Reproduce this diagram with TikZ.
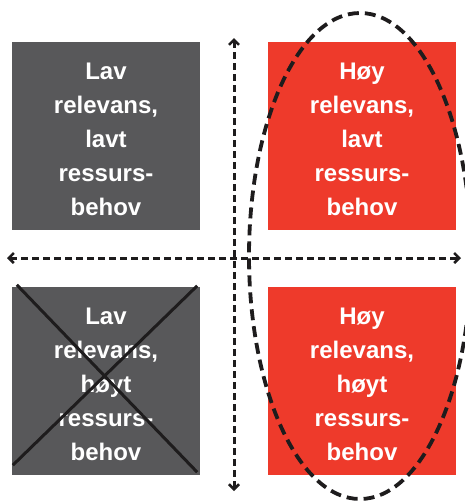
\documentclass[tikz,border=0pt]{standalone}
\usepackage{fontspec}
\setmainfont{Liberation Sans}
\usetikzlibrary{arrows.meta}
\definecolor{boxgray}{RGB}{88,88,90}
\definecolor{boxred}{RGB}{238,58,43}
\definecolor{ink}{RGB}{30,28,29}
\begin{document}
\begin{tikzpicture}[x=1pt,y=-1pt,
  quad/.style={minimum width=188pt,minimum height=188pt,inner sep=0pt},
  graybox/.style={quad,fill=boxgray},
  redbox/.style={quad,fill=boxred},
  caption/.style={inner sep=0pt,text=white,font=\bfseries\fontsize{24}{34}\selectfont,
    align=center,text width=180pt},
  tip/.tip={Straight Barb[length=5pt,width=10pt,line width=2.5pt]},
  axisline/.style={ink,line width=3pt,dash pattern=on 7pt off 4pt,tip-tip},
  ring/.style={ink,line width=3.8pt,dash pattern=on 11pt off 6pt},
  strike/.style={ink,line width=3pt}]
\useasboundingbox (0,0) rectangle (465,501);
\clip (0,0) rectangle (465,501);

% the four quadrants
\node[graybox] (tl) at (106,136) {};
\node[redbox]  (tr) at (362,136) {};
\node[graybox] (bl) at (106,381) {};
\node[redbox]  (br) at (362,381) {};

\node[caption] (tltext) at ([yshift=-3pt]tl.center) {Lav\\relevans,\\lavt\\ressurs-\\behov};
\node[caption] (trtext) at ([yshift=-3pt]tr.center) {Høy\\relevans,\\lavt\\ressurs-\\behov};
\node[caption] (bltext) at ([yshift=-3pt]bl.center) {Lav\\relevans,\\høyt\\ressurs-\\behov};
\node[caption] (brtext) at ([yshift=-3pt]br.center) {Høy\\relevans,\\høyt\\ressurs-\\behov};

% crossed-out quadrant
\draw[strike] ([xshift=5pt,yshift=2pt]bl.north west) -- ([xshift=-3pt,yshift=3pt]bl.south east);
\draw[strike] ([xshift=1pt,yshift=10pt]bl.south west) -- ([xshift=-3pt,yshift=1pt]bl.north east);

% axes
\coordinate (vtop) at (234,38);
\coordinate (vbot) at (234,491);
\coordinate (hleft) at (7,258);
\coordinate (hright) at (461,258);
\draw[axisline] (vtop) -- (vbot);
\draw[axisline] (hleft) -- (hright);

% highlighted column
\draw[ring] (360,256) ellipse [x radius=111pt, y radius=243pt];
\end{tikzpicture}
\end{document}
